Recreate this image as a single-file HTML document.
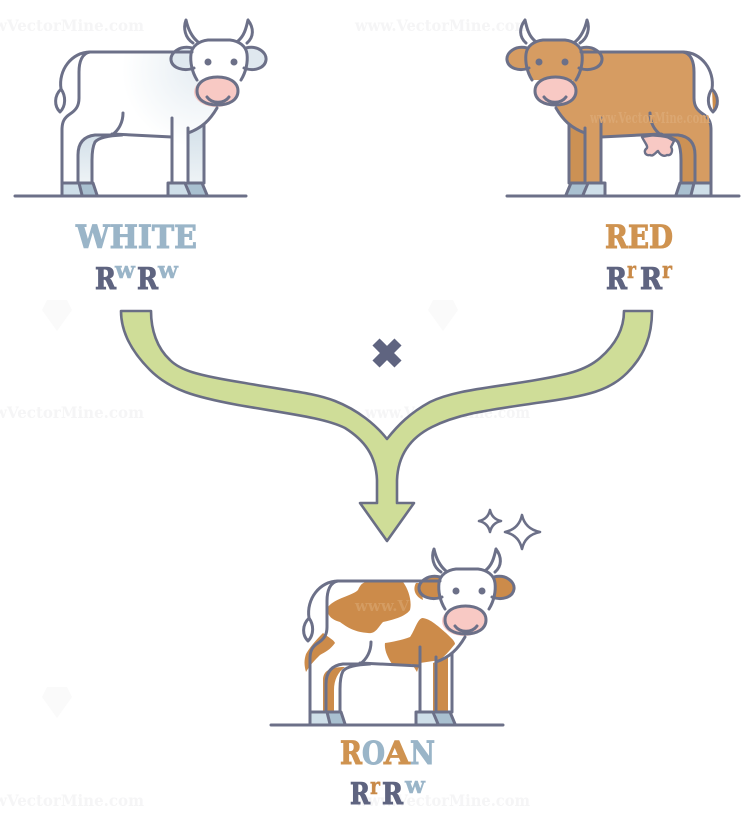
<!DOCTYPE html>
<html><head><meta charset="utf-8"><title>Roan cattle codominance</title>
<style>html,body{margin:0;padding:0;background:#fff}svg{display:block}
text{font-family:"DejaVu Serif","Liberation Serif",serif;font-weight:700}
.wm{font-size:16px;fill:#f5f5f6}
.big{font-size:31.5px;stroke-width:1px}
.gen{font-size:30px;stroke-width:1px}
.sup{font-size:23px;stroke-width:.4px}
</style></head><body>
<svg width="750" height="832" viewBox="0 0 750 832" xmlns="http://www.w3.org/2000/svg">
<defs>
<radialGradient id="wg" gradientUnits="userSpaceOnUse" cx="200" cy="70" r="78"><stop offset="0" stop-color="#e6edf3"/><stop offset=".6" stop-color="#f5f8fa"/><stop offset="1" stop-color="#fff"/></radialGradient>
<linearGradient id="lg" x1="0" y1="0" x2="0" y2="1"><stop offset="0" stop-color="#d3e0e9"/><stop offset="1" stop-color="#eef3f6"/></linearGradient>
<g id="hooves">
<path d="M62,183H79L82,195H62Z" fill="#cfdfe9"/><path d="M79,183H93L97,195H82Z" fill="#a9c0d0"/>
<path d="M168,183H185L190,195H168Z" fill="#cfdfe9"/><path d="M187,183H202L207,195H191Z" fill="#a9c0d0"/>
</g>
<path id="bodyshape" d="M90,52H200V80L215,100L217,108C210,120 202,128 188,133V183H172V137L113,135H95Q78,137 78,155V183H62V130C62,122 64,118 70,114C76,110 79,106 79,98V72C79,62 82,53 90,52Z"/>
<path id="farfront" d="M188,133L204,125V183H188Z"/>
<path id="farhind" d="M122,135Q100,136 95,142Q92,148 92,160V183H78V155Q78,137 95,135Z"/>
<path id="face" d="M197,80C192,72 190,62 191,54C192,46 199,41 208,40H230C239,41 246,46 247,54C248,62 246,72 241,80Z"/>
<path id="earL" d="M193,48C180,45 170,53 171,60C172,68 184,72 194,68Z"/>
<path id="earR" d="M245,48C258,45 267,53 266,60C265,68 254,72 244,68Z"/>
<path id="tuft" d="M61,89C54,96 54,106 60,112C66,106 66,96 61,89Z"/>
<g id="lines" fill="none" stroke="#6c7088" stroke-width="3" stroke-linecap="round" stroke-linejoin="round">
<path d="M90,52C72,52 58,70 61,89"/><use href="#tuft"/>
<path d="M90,52H192"/>
<path d="M90,52C82,53 79,62 79,72V98C79,106 76,110 70,114C64,118 62,122 62,130V183"/>
<path d="M172,137L112,134"/>
<path d="M123,113C123,122 119,130 112,135"/>
<path d="M114,135H95Q78,137 78,155V183"/>
<path d="M122,135Q100,136 95,142Q92,148 92,160V183"/>
<path d="M172,118V183M188,128V183M204,125V183"/>
<path d="M217,108C210,120 202,128 188,133"/>
<path d="M197,80C192,72 190,62 191,54C192,46 199,41 208,40H230C239,41 246,46 247,54C248,62 246,72 241,80"/>
<path d="M192,48C180,45 170,53 171,60C172,68 184,72 194,68"/>
<path d="M246,48C258,45 267,53 266,60C265,68 254,72 244,68"/>
<path d="M193,43C185,38 183,28 186,20C188,29 192,37 198,42"/>
<path d="M247,43C254,37 254,28 248,20C246,29 244,36 238,41"/>
<path d="M197,91C197,82 206,77 217.5,77C229,77 238,82 238,91C238,100 229,105 217.5,105C206,105 197,100 197,91Z"/>
<path d="M207,97C212,104 224,104 229,97"/>
<path d="M62,183H79L82,195M79,183H93L97,195M62,183V195M168,183H185L190,195M168,183V195M187,183H202L207,195"/>
<circle cx="208" cy="62" r="3.5" fill="#6c7088" stroke="none"/><circle cx="234" cy="62" r="3.5" fill="#6c7088" stroke="none"/>
</g>
</defs>

<rect width="750" height="832" fill="#fff"/>

<!-- watermarks -->
<text class="wm" x="-6" y="31" textLength="150" lengthAdjust="spacingAndGlyphs">wVectorMine.com</text><text class="wm" x="355" y="31" textLength="175" lengthAdjust="spacingAndGlyphs">www.VectorMine.com</text>
<text class="wm" x="-6" y="418" textLength="150" lengthAdjust="spacingAndGlyphs">wVectorMine.com</text><text class="wm" x="365" y="418" textLength="165" lengthAdjust="spacingAndGlyphs">www.VectorMine.com</text>
<text class="wm" x="-6" y="806" textLength="150" lengthAdjust="spacingAndGlyphs">wVectorMine.com</text><text class="wm" x="355" y="806" textLength="175" lengthAdjust="spacingAndGlyphs">www.VectorMine.com</text>
<path d="M47,300H67L72,310L57,331L42,310Z" fill="#fafafa"/><path d="M433,300H453L458,310L443,331L428,310Z" fill="#fafafa"/><path d="M47,687H67L72,697L57,718L42,697Z" fill="#fafafa"/>

<!-- white cow -->
<g>
<use href="#farhind" fill="url(#lg)"/><use href="#farfront" fill="url(#lg)"/>
<use href="#bodyshape" fill="url(#wg)"/><use href="#hooves"/>
<use href="#earL" fill="#dfe8ef"/><use href="#earR" fill="#dfe8ef"/><use href="#face" fill="#fff"/>
<ellipse cx="216" cy="92" rx="22" ry="15" fill="#f8c9c4"/>
<use href="#lines"/>
</g>
<path d="M15,196H246" stroke="#6c7088" stroke-width="3" stroke-linecap="round"/>

<!-- red cow -->
<g transform="translate(773,0) scale(-1,1)">
<use href="#farhind" fill="#cc9154"/><use href="#farfront" fill="#cc9154"/>
<use href="#bodyshape" fill="#d69c62"/><use href="#hooves"/>
<use href="#earL" fill="#d69c62"/><use href="#earR" fill="#d69c62"/><use href="#face" fill="#d69c62"/>
<path d="M61,89C54,96 54,106 60,112Z" fill="#cc8c4a"/>
<ellipse cx="217.5" cy="91" rx="21" ry="15" fill="#f8c9c4"/>
</g>
<path d="M642,137C645,143 648,146 647,148C643,151 645,156 650,155C653,157 656,152 658,151C660,155 664,157 667,155C672,156 673,150 671,147L674,141L662,134Z" fill="#f8c9c4" stroke="#6c7088" stroke-width="2.4" stroke-linejoin="round"/>
<g transform="translate(773,0) scale(-1,1)"><use href="#lines"/></g>
<path d="M507,196H739" stroke="#6c7088" stroke-width="3" stroke-linecap="round"/>
<text x="590" y="123" textLength="120" lengthAdjust="spacingAndGlyphs" style="font-size:15px;fill:#dba772">www.VectorMine.com</text>

<!-- labels top -->
<text class="big" x="76" y="248" textLength="121" lengthAdjust="spacingAndGlyphs" fill="#9ab5c8" stroke="#9ab5c8">WHITE</text>
<text class="gen" x="95" y="289" textLength="21" lengthAdjust="spacingAndGlyphs" fill="#5f6480" stroke="#5f6480">R</text><text class="sup" x="115" y="278" textLength="20" lengthAdjust="spacingAndGlyphs" fill="#9ab5c8" stroke="#9ab5c8">w</text>
<text class="gen" x="137" y="289" textLength="21" lengthAdjust="spacingAndGlyphs" fill="#5f6480" stroke="#5f6480">R</text><text class="sup" x="158" y="278" textLength="20" lengthAdjust="spacingAndGlyphs" fill="#9ab5c8" stroke="#9ab5c8">w</text>

<text class="big" x="605" y="248" textLength="68" lengthAdjust="spacingAndGlyphs" fill="#cf9350" stroke="#cf9350">RED</text>
<text class="gen" x="606" y="289" textLength="21" lengthAdjust="spacingAndGlyphs" fill="#5f6480" stroke="#5f6480">R</text><text class="sup" x="627" y="278" textLength="9" lengthAdjust="spacingAndGlyphs" fill="#c98a48" stroke="#c98a48">r</text>
<text class="gen" x="640" y="289" textLength="22" lengthAdjust="spacingAndGlyphs" fill="#5f6480" stroke="#5f6480">R</text><text class="sup" x="662" y="278" textLength="10" lengthAdjust="spacingAndGlyphs" fill="#c98a48" stroke="#c98a48">r</text>

<!-- arrow -->
<path d="M121,311H151C151,330 157,348 170,360C180,370 195,375 245,383C290,391 315,393 335,401C358,410 376,425 387,439C398,425 410,413 430,402C455,390 490,388 536,380C565,375 585,371 600,358C615,345 624,330 624,311H652C652,335 645,355 627,373C610,390 590,396 536,403C490,410 460,413 432,427C410,438 398,455 397,480V503H414L387,541L360,503H377V480C376,455 364,440 345,428C325,418 290,414 238,405C195,397 170,390 150,370C130,350 121,330 121,311Z" fill="#cfdd98" stroke="#6a6e85" stroke-width="2.6" stroke-linejoin="round"/>
<path d="M376,342L398,364M398,342L376,364" stroke="#5f6480" stroke-width="10"/>

<!-- sparkles -->
<path d="M490,510Q492,519 501,521Q492,523 490,532Q488,523 479,521Q488,519 490,510Z" fill="none" stroke="#6c7088" stroke-width="2.6" stroke-linejoin="round"/>
<path d="M522,515Q525,529 540,532Q525,535 522,549Q519,535 505,532Q519,529 522,515Z" fill="none" stroke="#6c7088" stroke-width="2.6" stroke-linejoin="round"/>

<!-- roan cow -->
<g transform="translate(248,529)">
<use href="#bodyshape" fill="#fff"/>
<use href="#hooves"/>
<use href="#earL" fill="#cc8b4a"/><use href="#earR" fill="#cc8b4a"/><use href="#face" fill="#fff"/>
<ellipse cx="216" cy="92" rx="22" ry="15" fill="#f8c9c4"/>
</g>
<path d="M328,607C335,598 352,596 358,590C361,584 362,582 372,581C385,581 398,580 403,582C409,590 412,602 410,610C405,617 392,620 383,622C378,627 376,634 368,633C355,632 348,628 340,622C333,620 326,616 328,607Z" fill="#cc8b4a"/>
<path d="M385,643C392,642 402,640 410,637C415,630 417,620 422,618C430,618 440,628 446,633C450,637 455,641 455,644C450,650 448,653 440,660L420,663L417,672L412,664H392C388,658 384,650 385,643Z" fill="#cc8b4a"/>
<path d="M323,633C328,637 334,640 335,643C330,650 325,652 320,655C315,660 310,665 306,672C304,665 304,660 306,654C310,647 316,640 323,633Z" fill="#cc8b4a"/>
<path d="M323,712V680C323,672 328,667 345,667C338,672 334,680 334,690V712Z" fill="#cc8b4a"/>
<path d="M433,663L448,656V712H433Z" fill="#cc8b4a"/>
<path d="M416,583C412,590 416,597 423,600L420,583Z" fill="#cc8b4a"/>
<text x="355" y="611" style="font-size:15px;fill:#d49c62">www.V</text>
<g transform="translate(248,529)"><use href="#lines"/></g>
<path d="M271,725H503" stroke="#6c7088" stroke-width="3" stroke-linecap="round"/>

<!-- roan labels -->
<text class="big" x="340" y="764" fill="#cf9350" stroke="#cf9350" textLength="22" lengthAdjust="spacingAndGlyphs">R</text>
<text class="big" x="362" y="764" fill="#9ab5c8" stroke="#9ab5c8" textLength="23" lengthAdjust="spacingAndGlyphs">O</text>
<text class="big" x="384" y="764" fill="#cf9350" stroke="#cf9350" textLength="26" lengthAdjust="spacingAndGlyphs">A</text>
<text class="big" x="410" y="764" fill="#9ab5c8" stroke="#9ab5c8" textLength="25" lengthAdjust="spacingAndGlyphs">N</text>
<text class="gen" x="350" y="804" textLength="20" lengthAdjust="spacingAndGlyphs" fill="#5f6480" stroke="#5f6480">R</text><text class="sup" x="370" y="794" textLength="10" lengthAdjust="spacingAndGlyphs" fill="#c98a48" stroke="#c98a48">r</text>
<text class="gen" x="382" y="804" textLength="21" lengthAdjust="spacingAndGlyphs" fill="#5f6480" stroke="#5f6480">R</text><text class="sup" x="405" y="793" textLength="20" lengthAdjust="spacingAndGlyphs" fill="#9ab5c8" stroke="#9ab5c8">w</text>
</svg>
</body></html>
